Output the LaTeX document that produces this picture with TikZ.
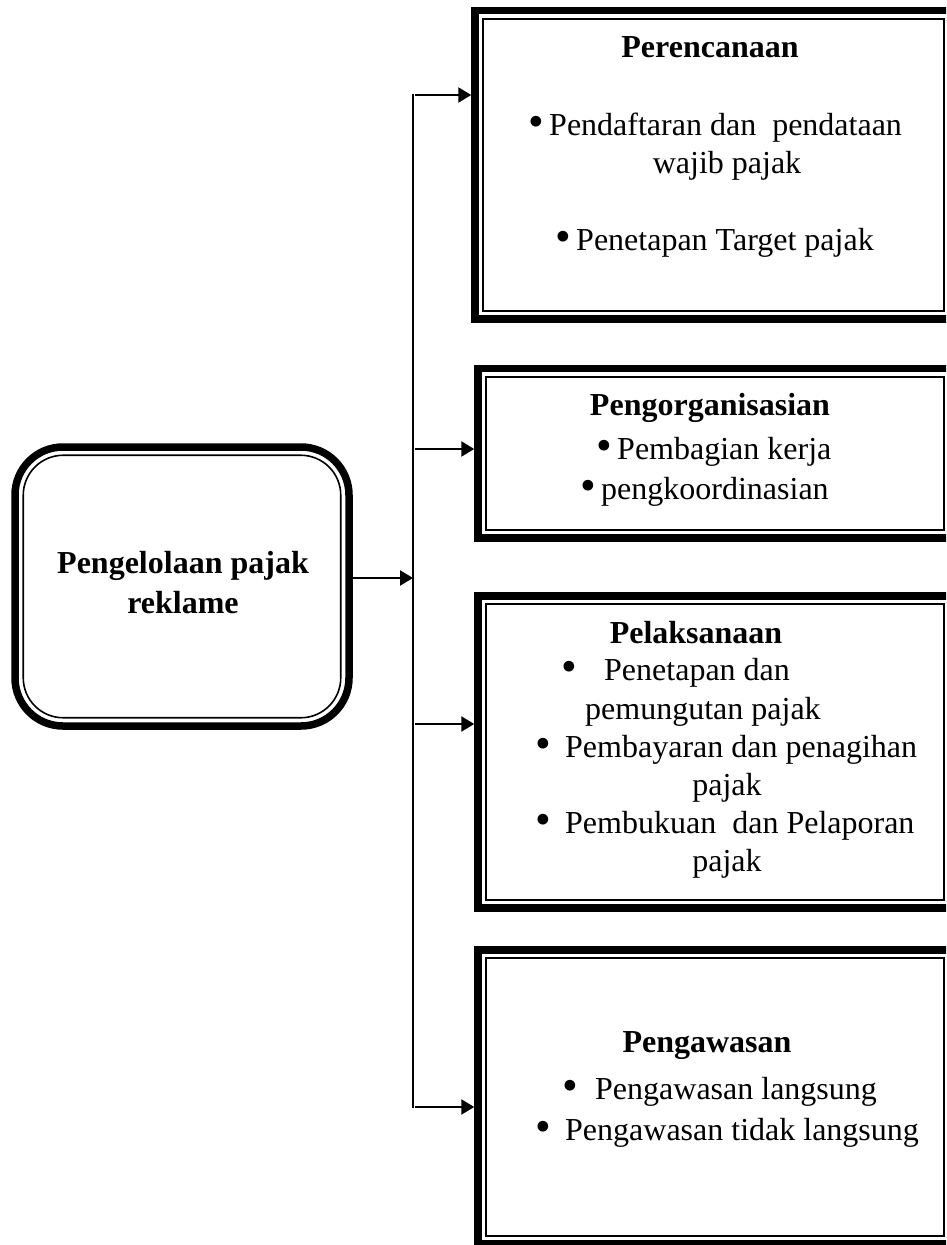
\documentclass[tikz,border=0pt]{standalone}
\usepackage{fontspec}
\setmainfont{Liberation Serif}
\usetikzlibrary{arrows.meta}
\newcommand\mybul{\raisebox{-1pt}{\scalebox{1.4}{•}}}
\begin{document}
\begin{tikzpicture}[x=1pt,y=-1pt,
  dbox/.style={draw, line width=7.5pt, inner sep=0pt},
  thinln/.style={line width=1.6pt},
  arr/.style={line width=2.4pt, -{Triangle[length=13pt,width=15pt]}},
  vline/.style={line width=1.5pt},
  txt/.style={inner sep=0pt, font=\fontsize{32}{38}\selectfont, text height=22pt, text depth=7pt},
  ttl/.style={txt, font=\fontsize{32}{38}\selectfont\bfseries}]
\useasboundingbox (0,0) rectangle (946,1245);
\clip (0,0) rectangle (946,1245);
% left rounded box
\node[dbox, rounded corners=48pt, minimum width=334pt, minimum height=279pt] (lb) at (182,586.5) {};
\draw[thinln, rounded corners=40pt] ([shift={(12,12)}]lb.north west) rectangle ([shift={(-12,-12)}]lb.south east);
\node[ttl] (lt1) at (183,566) {Pengelolaan pajak};
\node[ttl] (lt2) at (183,606) {reklame};
% right boxes
\node[dbox, minimum width=477pt, minimum height=308.5pt] (b1) at (713.5,164.75) {};
\node[dbox, minimum width=474pt, minimum height=169.5pt] (b2) at (715,453.25) {};
\node[dbox, minimum width=474pt, minimum height=312pt] (b3) at (715,752) {};
\node[dbox, minimum width=474pt, minimum height=294pt] (b4) at (715,1097) {};
\foreach \b in {b1,b2,b3,b4}{
  \draw[thinln] ([shift={(12,12)}]\b.north west) rectangle ([shift={(-12,-12)}]\b.south east);
}
% connectors
\coordinate (top) at (413,94);
\coordinate (bot) at (413,1108);
\draw[vline] (top) -- (bot);
\coordinate (m) at (413,578);
\draw[arr] (lb.east |- m) -- (m);
\coordinate (j1) at (415,95);
\coordinate (j2) at (415,449);
\coordinate (j3) at (415,724);
\coordinate (j4) at (415,1107);
\draw[arr] (j1) -- (j1 -| b1.west);
\draw[arr] (j2) -- (j2 -| b2.west);
\draw[arr] (j3) -- (j3 -| b3.west);
\draw[arr] (j4) -- (j4 -| b4.west);
% box 1 text
\node[ttl] (t1) at (710,50) {Perencanaan};
\node[txt, anchor=west] (t1a) at (528,128) {\mybul\,Pendaftaran dan\ \ pendataan};
\node[txt] (t1b) at (727,166) {wajib pajak};
\node[txt, anchor=west] (t1c) at (555,243) {\mybul\,Penetapan Target pajak};
% box 2 text
\node[ttl] (t2) at (710,408) {Pengorganisasian};
\node[txt, anchor=west] (t2a) at (596,452) {\mybul\,Pembagian kerja};
\node[txt, anchor=west] (t2b) at (580,492) {\mybul\,pengkoordinasian};
% box 3 text
\node[ttl] (t3) at (696,636) {Pelaksanaan};
\node[txt] (t3bu1) at (569,673) {\mybul};
\node[txt, anchor=west] (t3a) at (604,673) {Penetapan dan};
\node[txt, anchor=west] (t3b) at (585,712) {pemungutan pajak};
\node[txt] (t3bu2) at (543,750) {\mybul};
\node[txt, anchor=west] (t3c) at (565,750) {Pembayaran dan penagihan};
\node[txt] (t3d) at (727,788) {pajak};
\node[txt] (t3bu3) at (543,826) {\mybul};
\node[txt, anchor=west] (t3e) at (565,826) {Pembukuan\ \ dan Pelaporan};
\node[txt] (t3f) at (727,864) {pajak};
% box 4 text
\node[ttl] (t4) at (707,1045) {Pengawasan};
\node[txt] (t4bu1) at (570,1092) {\mybul};
\node[txt, anchor=west] (t4a) at (595,1092) {Pengawasan langsung};
\node[txt] (t4bu2) at (543,1133) {\mybul};
\node[txt, anchor=west] (t4b) at (565,1133) {Pengawasan tidak langsung};
\end{tikzpicture}
\end{document}
